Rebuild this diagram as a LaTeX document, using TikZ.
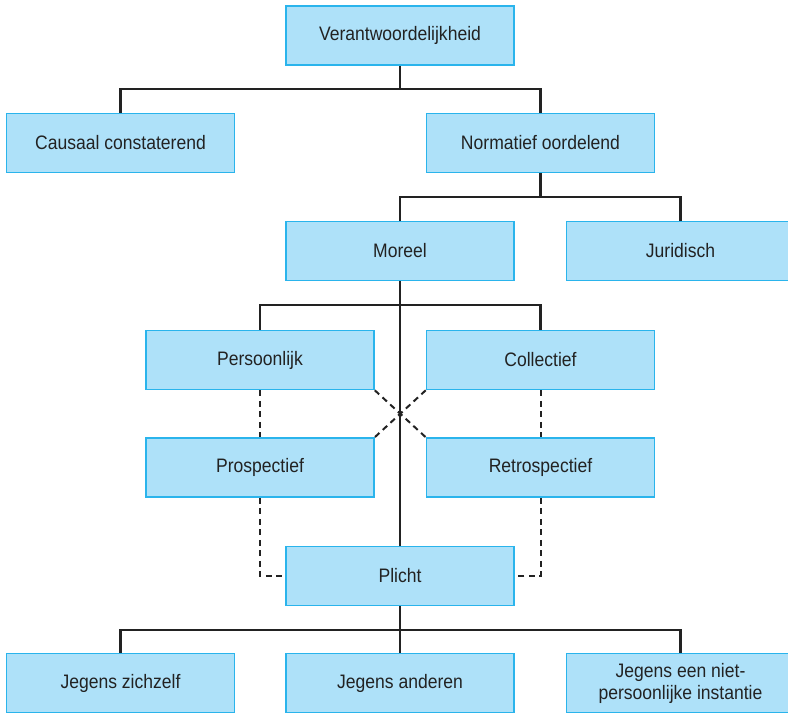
\documentclass[tikz,border=0pt]{standalone}
\usepackage{fontspec}
\setmainfont{Liberation Sans}[FakeStretch=0.9]
\definecolor{boxfill}{HTML}{AEE1F9}
\definecolor{boxline}{HTML}{2AB4EC}
\definecolor{ink}{HTML}{222222}
\begin{document}
\begin{tikzpicture}[x=1pt,y=-1pt,
  box/.style={draw=boxline,fill=boxfill,line width=1.5pt,minimum width=228pt,minimum height=59pt,inner sep=0pt,text=ink,font=\fontsize{19.5}{22}\selectfont,align=center},
  conn/.style={draw=ink,line width=2.2pt},
  dconn/.style={draw=ink,line width=2pt,dash pattern=on 6pt off 4.5pt}]
\useasboundingbox (0,0) rectangle (788,713);
\node[box] (V) at (400,35.5) {Verantwoordelijkheid};
\node[box] (C) at (120.5,143) {Causaal constaterend};
\node[box] (N) at (540.5,143) {Normatief oordelend};
\node[box] (M) at (400,251) {Moreel};
\node[box] (J) at (680.5,251) {Juridisch};
\node[box] (Pe) at (260,360) {Persoonlijk};
\node[box] (Co) at (540.5,360) {Collectief};
\node[box] (Pr) at (260,467.5) {Prospectief};
\node[box] (Re) at (540.5,467.5) {Retrospectief};
\node[box] (Pl) at (400,576) {Plicht};
\node[box] (Z) at (120.5,683) {Jegens zichzelf};
\node[box] (A) at (400,683) {Jegens anderen};
\node[box] (I) at (680.5,683) {Jegens een niet-\\persoonlijke instantie};
\coordinate (b1) at (400,89);
\coordinate (b2) at (540.5,197);
\coordinate (b3) at (400,305);
\coordinate (b4) at (400,630);
\draw[conn] (V.south) -- (b1);
\draw[conn] (b1) -| (C.north);
\draw[conn] (b1) -| (N.north);
\draw[conn] (N.south) -- (b2);
\draw[conn] (b2) -| (M.north);
\draw[conn] (b2) -| (J.north);
\draw[conn] (M.south) -- (Pl.north);
\draw[conn] (b3) -| (Pe.north);
\draw[conn] (b3) -| (Co.north);
\draw[conn] (Pl.south) -- (A.north);
\draw[conn] (b4) -| (Z.north);
\draw[conn] (b4) -| (I.north);
\draw[dconn] (Pe.south) -- (Pr.north);
\draw[dconn] (Co.south) -- (Re.north);
\draw[dconn] (Pe.south east) -- (Re.north west);
\draw[dconn] (Co.south west) -- (Pr.north east);
\draw[dconn] (Pr.south) |- (Pl.west);
\draw[dconn] (Re.south) |- (Pl.east);
\end{tikzpicture}
\end{document}
